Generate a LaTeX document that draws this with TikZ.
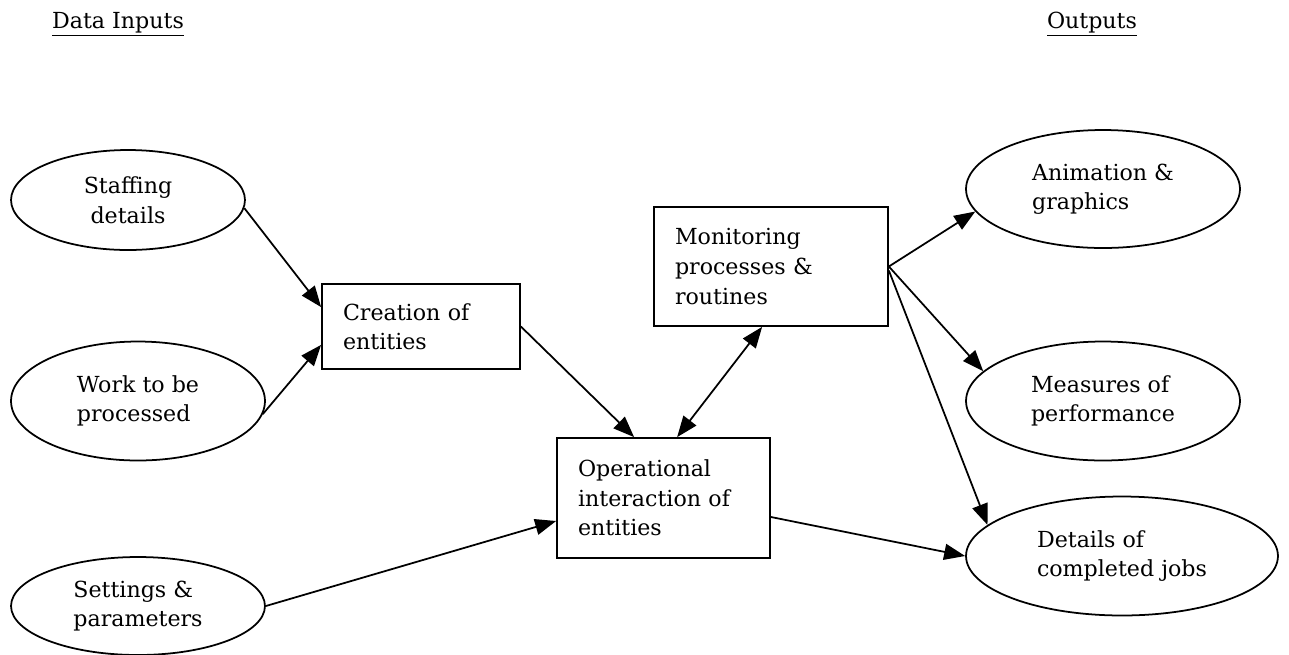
\documentclass[tikz,border=0pt]{standalone}
\usepackage{fontspec}
\setmainfont{DejaVu Serif}
\usetikzlibrary{shapes.geometric, arrows.meta}

\begin{document}
\begin{tikzpicture}[x=0.02cm, y=-0.02cm, >={Triangle[length=0.42cm, width=0.32cm]},
    every node/.style={font=\fontsize{12.6}{16.8}\selectfont},
    src/.style={draw, line width=1pt, ellipse, inner sep=0pt, align=left},
    proc/.style={draw, line width=1pt, rectangle, inner xsep=0.42cm, align=left},
    link/.style={line width=1pt}]
        \useasboundingbox (0,0) rectangle (1289,654);

        \node (hin) at (118,24) {\underline{Data Inputs}};
        \node (hout) at (1092,24) {\underline{Outputs}};

        \node[src, align=center, minimum width=4.68cm, minimum height=2cm] (staff) at (128,200) {Staffing\\details};
        \node[src, minimum width=5.08cm, minimum height=2.38cm] (work) at (138,401) {Work to be\\processed};
        \node[src, minimum width=5.08cm, minimum height=1.96cm] (sett) at (138,606) {Settings \&\\parameters};

        \node[proc, text width=3.12cm, minimum height=1.7cm] (creat) at (421,326.5) {Creation of\\entities};
        \node[proc, text width=3.84cm, minimum height=2.38cm] (monit) at (771,266.5) {Monitoring\\processes \&\\routines};
        \node[proc, text width=3.42cm, minimum height=2.4cm] (oper) at (663.5,498) {Operational\\interaction of\\entities};

        \node[src, minimum width=5.48cm, minimum height=2.36cm] (anim) at (1103,189) {Animation \&\\graphics};
        \node[src, minimum width=5.48cm, minimum height=2.38cm] (meas) at (1103,401) {Measures of\\performance};
        \node[src, minimum width=6.24cm, minimum height=2.38cm] (detl) at (1122,556) {Details of\\completed jobs};

        \draw[->, link] (staff.-4) -- ([yshift=-0.48cm]creat.north west);
        \draw[->, link] (work.-6) -- ([yshift=0.5cm]creat.south west);
        \draw[->, link] (creat.east) -- ([xshift=1.56cm]oper.north west);
        \draw[<->, link] ([xshift=2.42cm]oper.north west) -- ([xshift=2.18cm]monit.south west);
        \draw[->, link] (sett.east) -- ([yshift=-0.46cm]oper.west);
        \draw[->, link] ([yshift=-0.38cm]oper.east) -- (detl.west);

        \draw[->, link] (monit.east) -- (anim.190);
        \draw[->, link] (monit.east) -- (meas.166);
        \draw[->, link] ([yshift=-0.08cm]monit.east) -- (detl.167);
    \end{tikzpicture}
\end{document}
